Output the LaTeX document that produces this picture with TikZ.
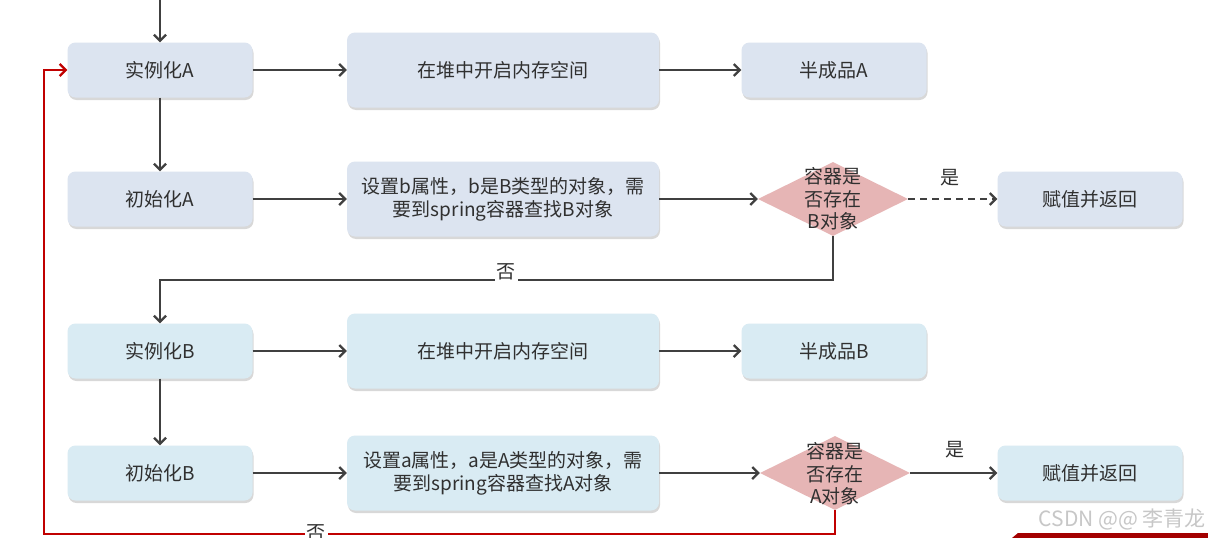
\documentclass[tikz,border=0pt]{standalone}
\usepackage{fontspec}
\setmainfont{Noto Sans CJK SC}
\usetikzlibrary{shapes.geometric,arrows.meta,shadows}
\definecolor{boxA}{HTML}{DCE4F0}
\definecolor{boxB}{HTML}{D9EBF3}
\definecolor{diaC}{HTML}{E6B5B5}
\definecolor{lnC}{HTML}{404040}
\definecolor{redC}{HTML}{C00000}
\definecolor{txtC}{HTML}{303030}
\begin{document}
\begin{tikzpicture}[x=1pt,y=-1pt,
  boxbase/.style={rounded corners=8pt, inner sep=0pt, align=center,
    font=\fontsize{19}{23}\selectfont, text=txtC,
    drop shadow={opacity=0.3,shadow xshift=1pt,shadow yshift=-2.5pt}},
  small/.style={boxbase, minimum width=185pt, minimum height=55pt},
  wide/.style={boxbase, minimum width=312pt, minimum height=75pt},
  dia/.style={diamond, fill=diaC, minimum width=150pt, minimum height=74pt, inner sep=0pt},
  diatext/.style={align=center, font=\fontsize{19}{22.5}\selectfont, text=txtC},
  lbl/.style={font=\fontsize{19}{19}\selectfont, text=txtC, fill=white, inner sep=2pt},
  arr/.style={draw=lnC, line width=2.2pt, -{Straight Barb[length=6pt,width=12pt]}},
  redarr/.style={draw=redC, line width=2.2pt, -{Straight Barb[length=6pt,width=12pt]}},
]
\useasboundingbox (0,0) rectangle (1208,538);
\fill[white] (0,0) rectangle (1208,538);

% row 1
\node[small, fill=boxA] (iA) at (160,70) {实例化A};
\node[wide, fill=boxA] (heapA) at (503,70) {在堆中开启内存空间};
\node[small, fill=boxA] (halfA) at (834,70) {半成品A};
% row 2
\node[small, fill=boxA] (initA) at (160,199) {初始化A};
\node[wide, fill=boxA] (setB) at (503,199) {设置b属性，b是B类型的对象，需\\要到spring容器查找B对象};
\node[dia] (dB) at (833,199) {};
\node[diatext] (dBt) at (833,199) {容器是\\否存在\\B对象};
\node[small, fill=boxA] (retA) at (1090,199) {赋值并返回};
% row 3
\node[small, fill=boxB] (iB) at (160,351) {实例化B};
\node[wide, fill=boxB] (heapB) at (503,351) {在堆中开启内存空间};
\node[small, fill=boxB] (halfB) at (834,351) {半成品B};
% row 4
\node[small, fill=boxB] (initB) at (160,473) {初始化B};
\node[wide, fill=boxB] (setA) at (503,473) {设置a属性，a是A类型的对象，需\\要到spring容器查找A对象};
\node[dia] (dA) at (835,473) {};
\node[diatext] (dAt) at (835,474) {容器是\\否存在\\A对象};
\node[small, fill=boxB] (retB) at (1090,473) {赋值并返回};

% connectors
\coordinate (start) at (160,0);
\draw[arr] (start) -- (iA);
\draw[arr] (iA) -- (heapA);
\draw[arr] (heapA) -- (halfA);
\draw[arr] (iA) -- (initA);
\draw[arr] (initA) -- (setB);
\draw[arr] (setB) -- (dB);
\draw[arr, dash pattern=on 7pt off 5pt] (dB) -- (retA);
\node[lbl] (yes1) at (950,178) {是};

\coordinate (n1) at (833,280);
\draw[arr] (dB.south) -- (n1) -| (iB.north);
\node[lbl] (no1) at (506,272) {否};

\draw[arr] (iB) -- (heapB);
\draw[arr] (heapB) -- (halfB);
\draw[arr] (iB) -- (initB);
\draw[arr] (initB) -- (setA);
\draw[arr] (setA) -- (dA);
\draw[arr] (dA) -- (retB);
\node[lbl] (yes2) at (955,450) {是};

\coordinate (c1) at (44,534);
\draw[redarr] (dA.south) |- (c1) |- (iA.west);
\node[lbl] (no2) at (316,533) {否};

% watermark and corner
\node[anchor=east, text=black!22, font=\fontsize{21}{21}\selectfont, inner sep=0pt] (wm) at (1206,519) {CSDN @@ 李青龙};
\fill[redC!85!black] (1012,538) -- (1018,533) -- (1208,533) -- (1208,538) -- cycle;
\end{tikzpicture}
\end{document}
